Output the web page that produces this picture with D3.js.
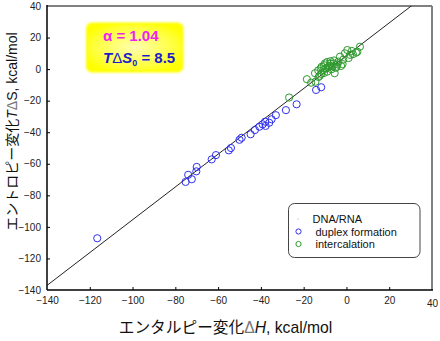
<!DOCTYPE html>
<html><head><meta charset="utf-8">
<script src="https://cdn.jsdelivr.net/npm/d3@7"></script>
<style>
body{margin:0;background:#fff;}
svg{display:block;font-family:Arial,"Liberation Sans","Noto Sans CJK JP",sans-serif;}
</style></head><body>
<svg id="c" width="440" height="341"></svg>
<script>
const ticks = [-140,-120,-100,-80,-60,-40,-20,0,20,40];
const alpha = 1.04, tds0 = 8.5;
const duplex = [
[-116.5,-107.2],[-75.2,-71.5],[-74,-67],[-72.3,-69.8],[-70.2,-64.8],[-70,-62],
[-63,-57.2],[-61,-54.5],[-55,-51.5],[-54,-50],[-50,-44.8],[-49,-43.5],
[-44.8,-41.3],[-42.8,-38.6],[-40.7,-36.5],[-39.2,-35],[-38,-33.3],[-37.8,-36],
[-36.1,-34],[-35,-31.8],[-33,-29.2],[-28.3,-26],[-23.3,-22.3],[-14.2,-13.2],[-11.8,-11.5]
];
const intercal = [
[-26.8,-18],[-18.5,-6.4],[-16.5,-8.6],[-14.5,-8],[-13,-5],[-14.7,-2.6],[-13.2,-0.8],
[-12.5,-4.2],[-11.6,1.5],[-10.8,-0.6],[-10.5,2.5],[-10,3.7],[-9.5,0.5],[-9,-1.6],
[-8.5,1],[-8,2],[-7.5,3.5],[-7,-0.1],[-6.5,1.8],[-6.1,3.7],[-5.5,-2.6],[-5,0.8],
[-4.6,1.5],[-4.2,3],[-3.8,4.7],[-3,7.9],[-2.5,2],[-1.8,3.2],[-1.5,6],[-0.7,10],
[0.4,12.1],[1,7],[1.7,9],[2.5,11.5],[3,9.5],[5.1,11],[6.3,14.2],[4.5,10.4],
[-11.8,-3],[-9,4.5],[-7.5,5],[-5.8,5.5],[-12,0.5],[-10.5,-2.5]
];
const legendItems = ["DNA/RNA","duplex formation","intercalation"];

const L=47,R=432,T=6,B=290;
const x=d3.scaleLinear().domain([-140,40]).range([L,R]);
const y=d3.scaleLinear().domain([-140,40]).range([B,T]);
const svg=d3.select("#c");
const defs=svg.append("defs");
defs.append("clipPath").attr("id","clip").append("rect").attr("x",L).attr("y",T).attr("width",R-L).attr("height",B-T);
const rg=defs.append("radialGradient").attr("id","yg").attr("cx","50%").attr("cy","50%").attr("r","60%");
rg.append("stop").attr("offset","0%").attr("stop-color","#ffffb0");
rg.append("stop").attr("offset","70%").attr("stop-color","#ffff40");
rg.append("stop").attr("offset","100%").attr("stop-color","#ffff00");
defs.append("filter").attr("id","glow").attr("x","-20%").attr("y","-20%").attr("width","140%").attr("height","140%")
  .append("feGaussianBlur").attr("stdDeviation",1.2);

// axes
const xa=svg.append("g").attr("transform",`translate(0,${B})`)
  .call(d3.axisBottom(x).tickValues(ticks).tickSize(-3).tickSizeOuter(0).tickPadding(7));
const ya=svg.append("g").attr("transform",`translate(${L},0)`)
  .call(d3.axisLeft(y).tickValues(ticks).tickSize(-3).tickSizeOuter(0).tickPadding(6));
[xa,ya].forEach(g=>{g.select(".domain").remove();g.selectAll("text").attr("font-size",10).attr("fill","#222").attr("font-family","Arial,'Liberation Sans',sans-serif");g.selectAll("line").attr("stroke","#000");});
xa.selectAll(".tick").filter(d=>d===40).select("text").attr("dy","1.0em");
xa.selectAll(".tick").filter(d=>d===40||d===-140).select("line").remove();
ya.selectAll(".tick").filter(d=>d===40||d===-140).select("line").remove();

// frame
svg.append("line").attr("x1",L).attr("x2",R).attr("y1",T).attr("y2",T).attr("stroke","#808080").attr("stroke-width",2);
svg.append("line").attr("x1",R).attr("x2",R).attr("y1",T).attr("y2",B).attr("stroke","#808080").attr("stroke-width",2);
svg.append("line").attr("x1",L).attr("x2",L).attr("y1",T-1).attr("y2",B).attr("stroke","#000").attr("stroke-width",1.5);
svg.append("line").attr("x1",L).attr("x2",R+1).attr("y1",B).attr("y2",B).attr("stroke","#000").attr("stroke-width",1.5);

// regression line
const lineData=[-140,40].map(v=>[v,alpha*v+tds0]);
svg.append("path").attr("clip-path","url(#clip)")
  .attr("d",d3.line().x(d=>x(d[0])).y(d=>y(d[1]))(lineData))
  .attr("stroke","#222").attr("stroke-width",1).attr("fill","none");

// points
const plot=svg.append("g").attr("clip-path","url(#clip)");
plot.selectAll(".b").data(duplex).join("circle").attr("cx",d=>x(d[0])).attr("cy",d=>y(d[1])).attr("r",3.6)
  .attr("fill","none").attr("stroke","#3030ee").attr("stroke-width",1);
plot.selectAll(".g").data(intercal).join("circle").attr("cx",d=>x(d[0])).attr("cy",d=>y(d[1])).attr("r",3.6)
  .attr("fill","none").attr("stroke","#2e9a2e").attr("stroke-width",1);

// yellow box
svg.append("rect").attr("x",86).attr("y",22.5).attr("width",97.5).attr("height",50).attr("rx",6)
  .attr("fill","#ffff00").attr("filter","url(#glow)");
svg.append("rect").attr("x",88).attr("y",24.5).attr("width",93.5).attr("height",46).attr("rx",5)
  .attr("fill","url(#yg)");
svg.append("text").attr("x",103).attr("y",41).attr("font-size",15).attr("font-weight","bold").attr("fill","#ee22ee")
  .text(`α = ${alpha.toFixed(2)}`);
const t2=svg.append("text").attr("x",103).attr("y",63).attr("font-size",15).attr("font-weight","bold").attr("fill","#1a1acc");
t2.append("tspan").attr("font-style","italic").text("T");
t2.append("tspan").attr("font-weight","normal").text("Δ");
t2.append("tspan").attr("font-style","italic").text("S");
t2.append("tspan").attr("font-size",9).attr("dy",3).text("0");
t2.append("tspan").attr("dy",-3).text(` = ${tds0}`);

// legend
svg.append("rect").attr("x",288.5).attr("y",203.5).attr("width",131.5).attr("height",54).attr("rx",6)
  .attr("fill","#fff").attr("stroke","#444").attr("stroke-width",1);
const lg=svg.append("g").attr("font-size",11).attr("fill","#111");
lg.append("circle").attr("cx",298).attr("cy",219).attr("r",0.8).attr("fill","#ccc");
lg.append("text").attr("x",312.5).attr("y",223).text(legendItems[0]);
lg.append("circle").attr("cx",298.5).attr("cy",231.5).attr("r",2.6).attr("fill","none").attr("stroke","#3030ee");
lg.append("text").attr("x",315.5).attr("y",235.5).text(legendItems[1]);
lg.append("circle").attr("cx",298.5).attr("cy",244).attr("r",2.6).attr("fill","none").attr("stroke","#2e9a2e");
lg.append("text").attr("x",315.5).attr("y",248).text(legendItems[2]);

// axis titles
const xt=svg.append("text").attr("x",225.5).attr("y",333).attr("text-anchor","middle").attr("font-size",15.7).attr("fill","#111");
xt.append("tspan").text("エンタルピー変化");
xt.append("tspan").attr("fill","#777").text("Δ");
xt.append("tspan").attr("font-style","italic").text("H");
xt.append("tspan").text(", kcal/mol");
const yt=svg.append("text").attr("transform","translate(17,131.5) rotate(-90)").attr("text-anchor","middle").attr("font-size",14).attr("fill","#111");
yt.append("tspan").text("エントロピー変化");
yt.append("tspan").attr("font-style","italic").text("T");
yt.append("tspan").attr("fill","#777").text("Δ");
yt.append("tspan").text("S, kcal/mol");
</script></body></html>
